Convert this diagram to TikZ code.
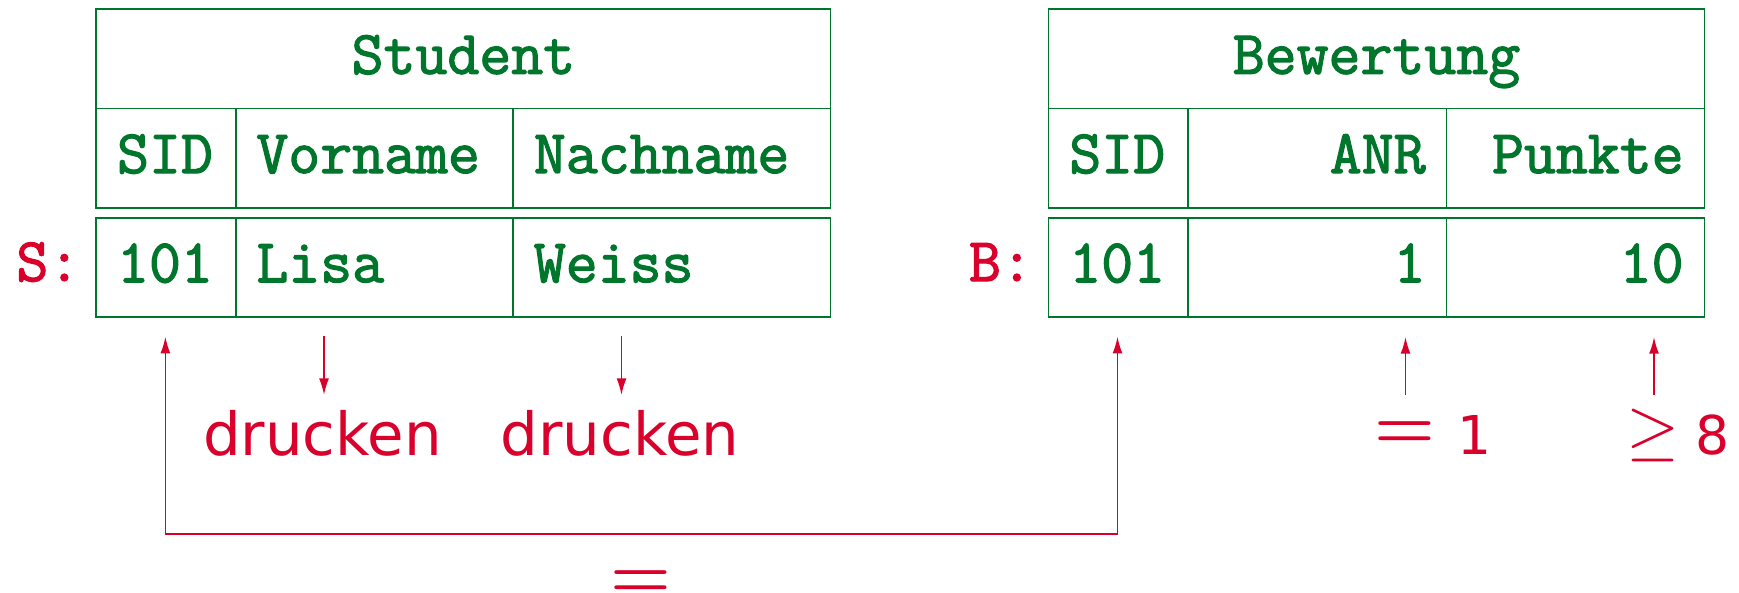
\documentclass[tikz,border=0pt]{standalone}
\usepackage{graphicx}
\usepackage{fontspec}
\newfontfamily\dvs{DejaVu Sans}
\newfontfamily\ttheavy{Latin Modern Mono}[FakeBold=2]
\usetikzlibrary{arrows.meta}
\definecolor{tgreen}{RGB}{0,117,44}
\definecolor{tred}{RGB}{218,0,44}
\begin{document}
\begin{tikzpicture}[x=1pt,y=-1pt,
  ttf/.style={font=\fontsize{62}{70}\selectfont\ttheavy},
  cell/.style={ttf, draw=tgreen, line width=1.8pt, text=tgreen, anchor=north west,
    inner xsep=20.8pt, inner ysep=0pt, minimum height=99.2pt,
    text height=42pt, text depth=12pt},
  lbl/.style={ttf, text=tred, inner sep=0pt, anchor=base east},
  sanslbl/.style={text=tred, inner sep=0pt, anchor=base, font=\dvs\fontsize{59.4}{66}\selectfont},
  digit/.style={text=tred, inner sep=0pt, anchor=base, font=\dvs\fontsize{53.5}{60}\selectfont},
  eqsym/.style={text=tred, inner sep=0pt, anchor=base, font=\fontsize{69.5}{80}\selectfont\bfseries},
  geqsym/.style={text=tred, inner sep=0pt, anchor=base},
  arr/.style={draw=tred, line width=1.7pt, -{Latex[length=16.7pt,width=10pt]}},
  arrboth/.style={draw=tred, line width=1.7pt, {Latex[length=16.7pt,width=10pt]}-{Latex[length=16.7pt,width=10pt]}}
]
\useasboundingbox (0,0) rectangle (1739,592);
% ---------- Student table
\node[cell, text width=692.6pt, align=center] (sH) at (95.4,8.3) {Student};
\node[cell, text width=97.7pt, align=left] (sC1) at (95.4,107.5) {SID};
\node[cell, text width=235.9pt, align=left] (sC2) at (234.7,107.5) {Vorname};
\node[cell, text width=275.8pt, align=left] (sC3) at (512.2,107.5) {Nachname};
\node[cell, text width=97.7pt, align=left] (sD1) at (95.4,216.7) {101};
\node[cell, text width=235.9pt, align=left] (sD2) at (234.7,216.7) {Lisa};
\node[cell, text width=275.8pt, align=left] (sD3) at (512.2,216.7) {Weiss};
\node[lbl] (S) at (80.5,281) {S:};
% ---------- Bewertung table
\node[cell, text width=614.3pt, align=center] (bH) at (1047.6,8.3) {Bewertung};
\node[cell, text width=98.2pt, align=left] (bC1) at (1047.6,107.5) {SID};
\node[cell, text width=216.5pt, align=right] (bC2) at (1187.4,107.5) {ANR};
\node[cell, text width=216.4pt, align=right] (bC3) at (1445.5,107.5) {Punkte};
\node[cell, text width=98.2pt, align=left] (bD1) at (1047.6,216.7) {101};
\node[cell, text width=216.5pt, align=right] (bD2) at (1187.4,216.7) {1};
\node[cell, text width=216.4pt, align=right] (bD3) at (1445.5,216.7) {10};
\node[lbl] (B) at (1033,281) {B:};
% ---------- annotations
\node[sanslbl] (dr1) at (322.5,455) {drucken};
\node[sanslbl] (dr2) at (620,455) {drucken};
\node[eqsym] (eqA) at (1405.3,448) {=};
\node[digit] (one) at (1474,454) {1};
\node[geqsym] (geq) at (1653.4,452.4) {\scalebox{6.83}{$\geq$}};
\node[digit] (eight) at (1712,454) {8};
\node[eqsym] (eqJ) at (641.3,591) {\raisebox{-6.4pt}[\height][0pt]{=}};
% ---------- connector coordinates
\coordinate (jA) at (165.4,336.7);
\coordinate (jB) at (165.4,534.3);
\coordinate (jC) at (1117.5,534.3);
\coordinate (jD) at (1117.5,336.7);
\coordinate (p1s) at (324,336);
\coordinate (p1e) at (324,395);
\coordinate (p2s) at (621.5,336);
\coordinate (p2e) at (621.5,395);
\coordinate (q1s) at (1405.5,395);
\coordinate (q1e) at (1405.5,337);
\coordinate (q2s) at (1654,395);
\coordinate (q2e) at (1654,337);
% ---------- connectors
\draw[arrboth] (jA) -- (jB) -- (jC) -- (jD);
\draw[arr] (p1s) -- (p1e);
\draw[arr] (p2s) -- (p2e);
\draw[arr] (q1s) -- (q1e);
\draw[arr] (q2s) -- (q2e);
\end{tikzpicture}
\end{document}
